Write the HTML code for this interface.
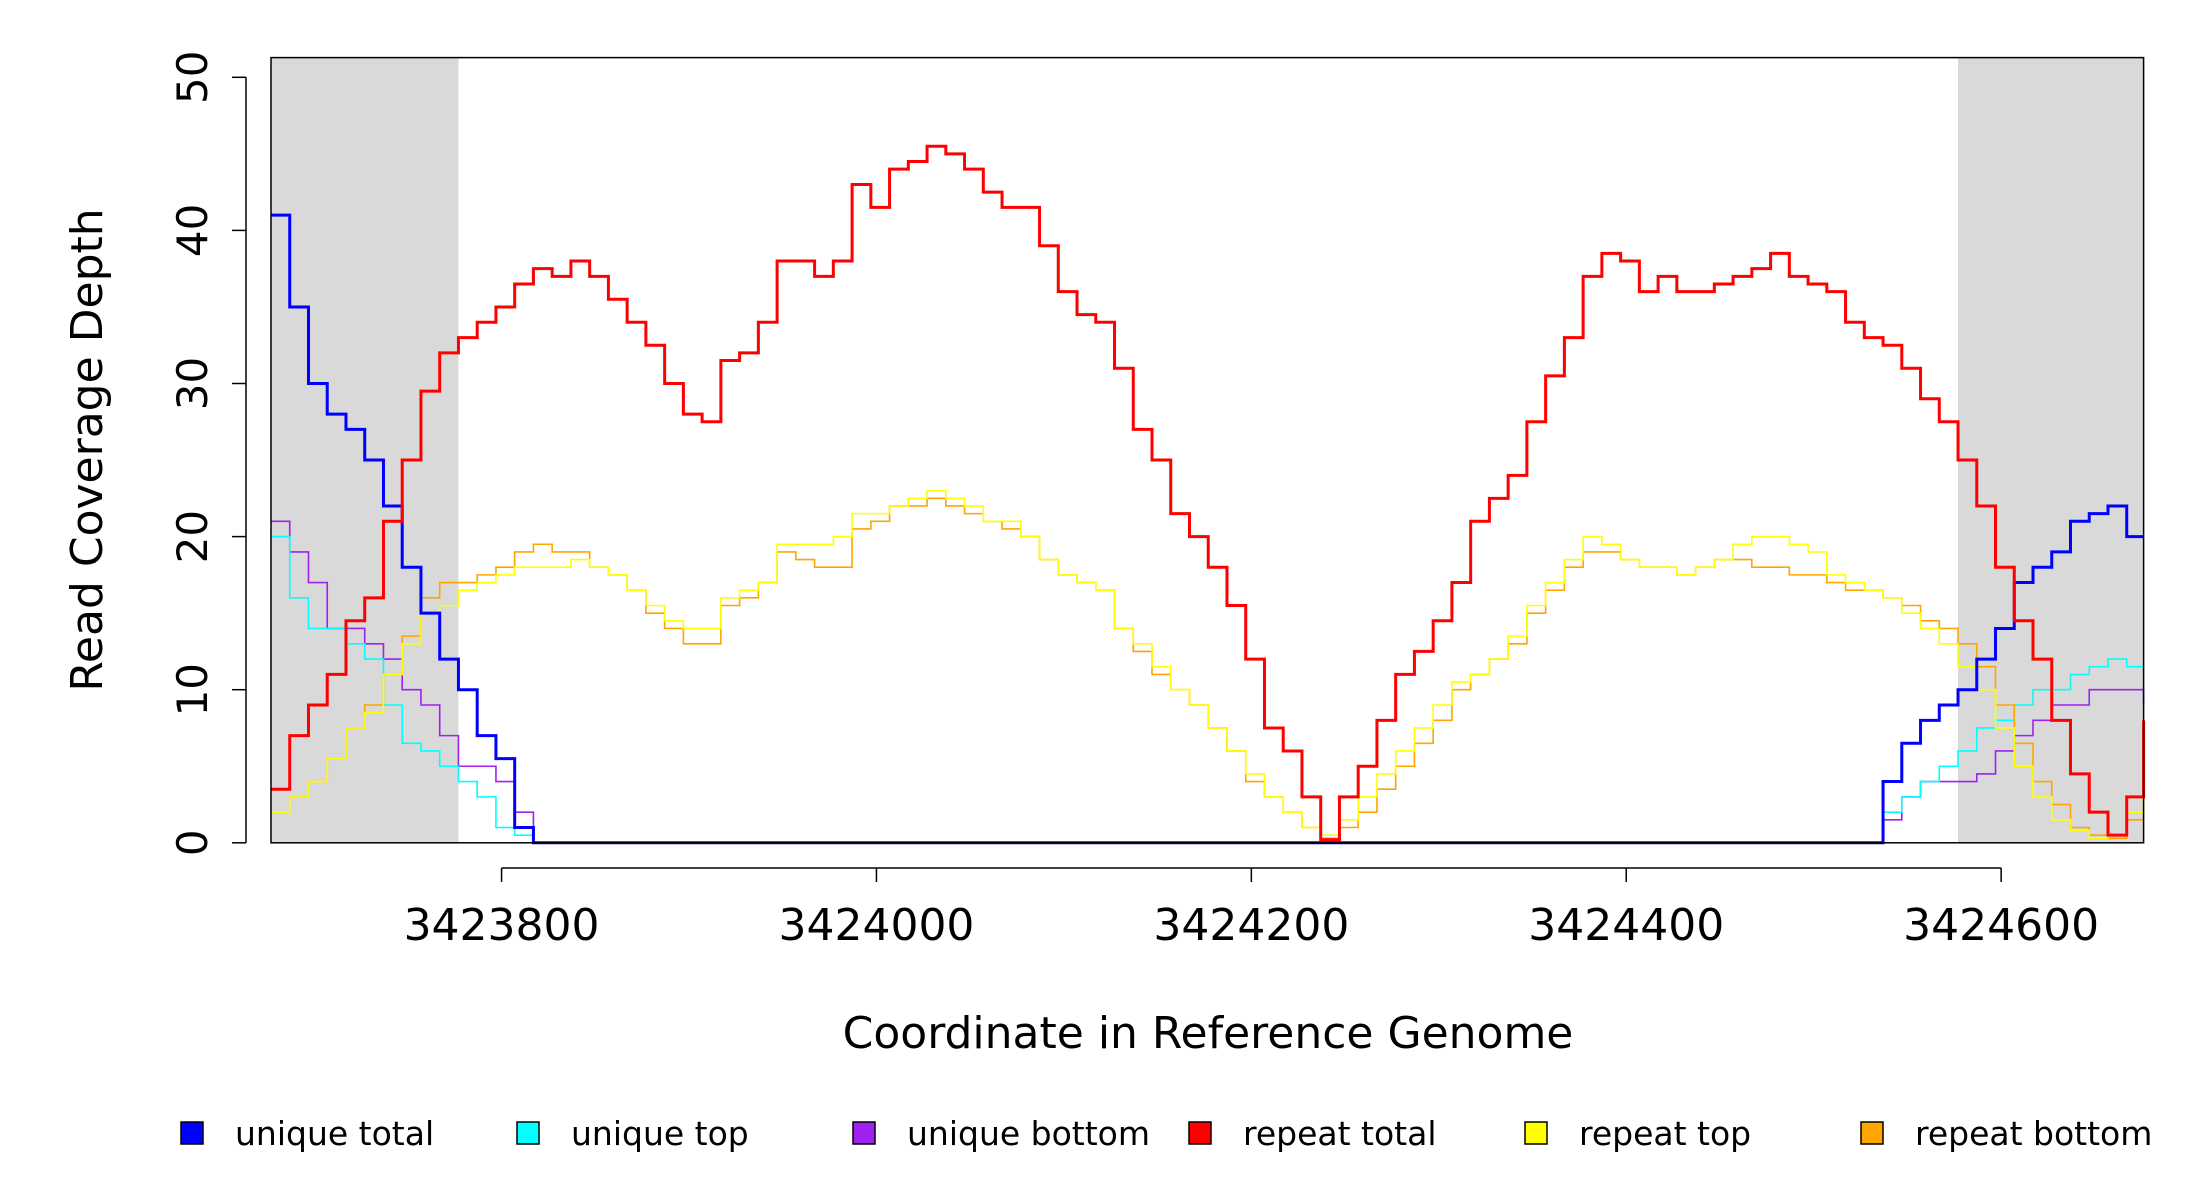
<!DOCTYPE html>
<html><head><meta charset="utf-8"><style>
html,body{margin:0;padding:0;background:#fff;}
svg{display:block;font-family:"DejaVu Sans","Liberation Sans",sans-serif;}
</style></head><body>
<svg id="chart" width="2200" height="1200" viewBox="0 0 2200 1200">
<g id="shade"></g>
<g id="series"></g>
<g id="axes"></g>
<g id="legend"></g>
</svg>
<script>
const xStart = 3423677;
const xStep = 10;
const repeatTotal = [3.5,7,9,11,14.5,16,21,25,29.5,32,33,34,35,36.5,37.5,37,38,37,35.5,34,32.5,30,28,27.5,31.5,32,34,38,38,37,38,43,41.5,44,44.5,45.5,45,44,42.5,41.5,41.5,39,36,34.5,34,31,27,25,21.5,20,18,15.5,12,7.5,6,3,0.2,3,5,8,11,12.5,14.5,17,21,22.5,24,27.5,30.5,33,37,38.5,38,36,37,36,36,36.5,37,37.5,38.5,37,36.5,36,34,33,32.5,31,29,27.5,25,22,18,14.5,12,8,4.5,2,0.5,3,8];
const repeatTop = [2,3,4,5.5,7.5,8.5,11,13,15,15.5,16.5,17,17.5,18,18,18,18.5,18,17.5,16.5,15.5,14.5,14,14,16,16.5,17,19.5,19.5,19.5,20,21.5,21.5,22,22.5,23,22.5,22,21,21,20,18.5,17.5,17,16.5,14,13,11.5,10,9,7.5,6,4.5,3,2,1,0.5,1.5,3,4.5,6,7.5,9,10.5,11,12,13.5,15.5,17,18.5,20,19.5,18.5,18,18,17.5,18,18.5,19.5,20,20,19.5,19,17.5,17,16.5,16,15,14,13,11.5,10,7.5,5,3,1.5,0.8,0.3,0.5,2,4.5];
const repeatBottom = [2,3,4,5.5,7.5,9,11,13.5,16,17,17,17.5,18,19,19.5,19,19,18,17.5,16.5,15,14,13,13,15.5,16,17,19,18.5,18,18,20.5,21,22,22,22.5,22,21.5,21,20.5,20,18.5,17.5,17,16.5,14,12.5,11,10,9,7.5,6,4,3,2,1,0.3,1,2,3.5,5,6.5,8,10,11,12,13,15,16.5,18,19,19,18.5,18,18,17.5,18,18.5,18.5,18,18,17.5,17.5,17,16.5,16.5,16,15.5,14.5,14,13,11.5,9,6.5,4,2.5,1,0.5,0.3,1.5,4.5];
const uniqueTotal = [41,35,30,28,27,25,22,18,15,12,10,7,5.5,1,0,0,0,0,0,0,0,0,0,0,0,0,0,0,0,0,0,0,0,0,0,0,0,0,0,0,0,0,0,0,0,0,0,0,0,0,0,0,0,0,0,0,0,0,0,0,0,0,0,0,0,0,0,0,0,0,0,0,0,0,0,0,0,0,0,0,0,0,0,0,0,0,4,6.5,8,9,10,12,14,17,18,19,21,21.5,22,20,20];
const uniqueTop = [20,16,14,14,13,12,9,6.5,6,5,4,3,1,0.5,0,0,0,0,0,0,0,0,0,0,0,0,0,0,0,0,0,0,0,0,0,0,0,0,0,0,0,0,0,0,0,0,0,0,0,0,0,0,0,0,0,0,0,0,0,0,0,0,0,0,0,0,0,0,0,0,0,0,0,0,0,0,0,0,0,0,0,0,0,0,0,0,2,3,4,5,6,7.5,8,9,10,10,11,11.5,12,11.5,11];
const uniqueBottom = [21,19,17,14,14,13,12,10,9,7,5,5,4,2,0,0,0,0,0,0,0,0,0,0,0,0,0,0,0,0,0,0,0,0,0,0,0,0,0,0,0,0,0,0,0,0,0,0,0,0,0,0,0,0,0,0,0,0,0,0,0,0,0,0,0,0,0,0,0,0,0,0,0,0,0,0,0,0,0,0,0,0,0,0,0,0,1.5,3,4,4,4,4.5,6,7,8,9,9,10,10,10,9];
const yTicks = [0,10,20,30,40,50];
const xTicks = [3423800,3424000,3424200,3424400,3424600];
const shadeRanges = [[3423677,3423777],[3424577,3424676]];
const legendLabels = ["unique total","unique top","unique bottom","repeat total","repeat top","repeat bottom"];
const legendColors = ["#0000ff","#00ffff","#a020f0","#ff0000","#ffff00","#ffa500"];

const NS="http://www.w3.org/2000/svg";
const PL=271, PR=2143.6, PT=57.6, PB=842.8, Y50=77.3;
const X0=3423677, X1=3424676;
function sx(c){return PL+(c-X0)*(PR-PL)/(X1-X0);}
function sy(v){return PB - v*(PB-Y50)/50;}
function mk(tag,attrs,parent){const e=document.createElementNS(NS,tag);for(const k in attrs)e.setAttribute(k,attrs[k]);parent.appendChild(e);return e;}

const shade=document.getElementById('shade');
shadeRanges.forEach((r,i)=>{
  const e=mk('rect',{x:sx(r[0]),y:PT,width:sx(r[1])-sx(r[0]),height:PB-PT,fill:'#d9d9d9'},shade);
  
  
});

const series=document.getElementById('series');
function stepPath(vals){
  let d='';
  for(let i=0;i<vals.length;i++){
    const x=sx(Math.min(xStart+i*xStep,X1)), y=sy(vals[i]);
    if(i===0) d+='M'+x+' '+y; else d+=' H'+x+' V'+y;
  }
  return d;
}
const seriesDefs=[
  [uniqueBottom,'#a020f0',1.6,'unique-bottom-line'],
  [uniqueTop,'#00ffff',1.6,'unique-top-line'],
  [repeatBottom,'#ffa500',1.6,'repeat-bottom-line'],
  [repeatTop,'#ffff00',1.6,'repeat-top-line'],
  [uniqueTotal,'#0000ff',3,'unique-total-line'],
  [repeatTotal,'#ff0000',3,'repeat-total-line']
];
seriesDefs.forEach(s=>{
  const e=mk('path',{d:stepPath(s[0]),fill:'none',stroke:s[1],'stroke-width':s[2]},series);
  
  
});

const axes=document.getElementById('axes');
const box=mk('rect',{x:PL,y:PT,width:PR-PL,height:PB-PT,fill:'none',stroke:'#000','stroke-width':1.5},axes);


const YA=246;
const yl=mk('line',{x1:YA,x2:YA,y1:sy(0),y2:sy(50),stroke:'#000','stroke-width':1.5},axes);


yTicks.forEach(v=>{
  mk('line',{x1:YA-14,x2:YA,y1:sy(v),y2:sy(v),stroke:'#000','stroke-width':1.5},axes);
  const t=mk('text',{x:0,y:0,transform:'translate(207,'+sy(v)+') rotate(-90)','text-anchor':'middle','font-size':42},axes);
  t.textContent=v;
  
  
});
const XA=868;
const xl=mk('line',{x1:sx(xTicks[0]),x2:sx(xTicks[xTicks.length-1]),y1:XA,y2:XA,stroke:'#000','stroke-width':1.5},axes);


xTicks.forEach(v=>{
  mk('line',{x1:sx(v),x2:sx(v),y1:XA,y2:XA+14,stroke:'#000','stroke-width':1.5},axes);
  const t=mk('text',{x:sx(v),y:940,'text-anchor':'middle','font-size':44},axes);
  t.textContent=v;
  
  
});
const yt=mk('text',{x:0,y:0,transform:'translate(102,450) rotate(-90)','text-anchor':'middle','font-size':44},axes);
yt.textContent='Read Coverage Depth';


const xt=mk('text',{x:1208,y:1048,'text-anchor':'middle','font-size':44},axes);
xt.textContent='Coordinate in Reference Genome';



const legend=document.getElementById('legend');
const lx=[181,517,853,1189,1525,1861];
legendLabels.forEach((lab,i)=>{
  const g=mk('g',{},legend);
  
  
  mk('rect',{x:lx[i],y:1122,width:22,height:22,fill:legendColors[i],stroke:'#000','stroke-width':1.5},g);
  const t=mk('text',{x:lx[i]+54,y:1145,'font-size':33},g);
  t.textContent=lab;
});
</script>
</body></html>
